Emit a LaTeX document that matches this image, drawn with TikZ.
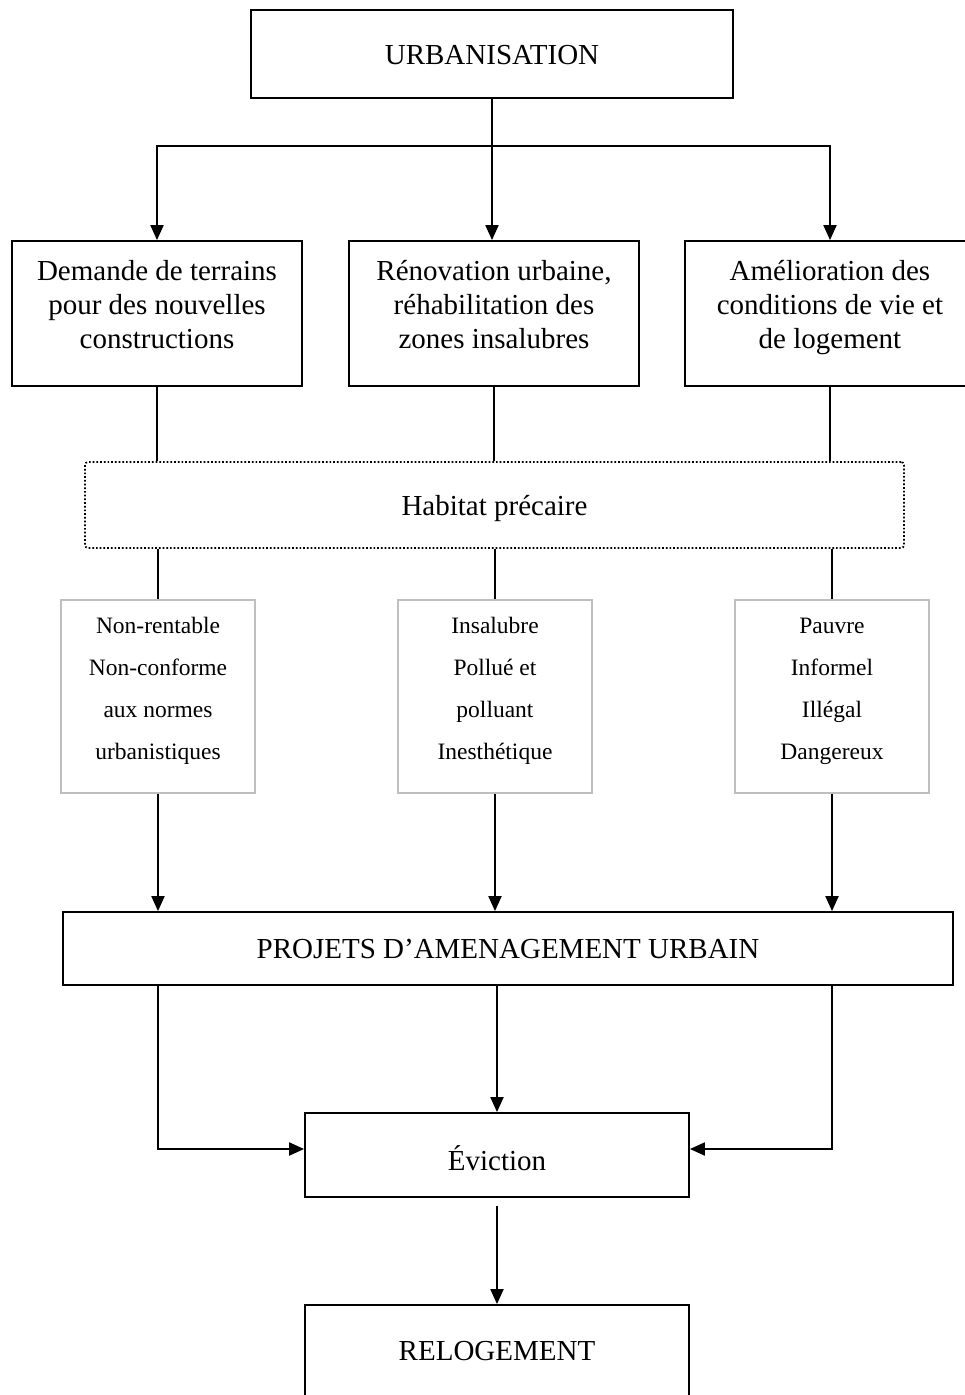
\documentclass[tikz,border=0pt]{standalone}
\usepackage{fontspec}
\setmainfont{Liberation Serif}
\usetikzlibrary{arrows.meta}
\tikzset{
  box/.style={draw, line width=1.8pt, inner sep=0pt},
  hatch/.style={draw, line width=1.7pt, dotted, rounded corners=3pt, inner sep=0pt},
  softbox/.style={draw=black!25, line width=1.3pt, inner sep=0pt},
  bigtxt/.style={font=\fontsize{29}{34}\selectfont, align=center, inner sep=0pt},
  smalltxt/.style={font=\fontsize{23.5}{42}\selectfont, align=center, inner sep=0pt},
  link/.style={line width=2pt},
  arrow/.style={line width=2pt, -{Triangle[length=15pt,width=13pt]}},
}
\begin{document}
\begin{tikzpicture}[x=1pt,y=-1pt]
\useasboundingbox (0,0) rectangle (964,1395);

% top level
\node[box, minimum width=482pt, minimum height=88pt] (urb) at (492,54) {};
\node[bigtxt] (urbt) at (492,55) {URBANISATION};

% three causes
\node[box, minimum width=290pt, minimum height=145pt] (d1) at (157,313.5) {};
\node[bigtxt] (d1t) at (157,305) {Demande de terrains\\pour des nouvelles\\constructions};
\node[box, minimum width=290pt, minimum height=145pt] (d2) at (494,313.5) {};
\node[bigtxt] (d2t) at (494,305) {Rénovation urbaine,\\réhabilitation des\\zones insalubres};
\node[box, minimum width=290pt, minimum height=145pt] (d3) at (830,313.5) {};
\node[bigtxt] (d3t) at (830,308) {Amélioration des\\conditions de vie et\\de logement};

% precarious housing
\node[hatch, minimum width=819pt, minimum height=86pt] (hab) at (494.5,505) {};
\node[bigtxt] (habt) at (494.5,508) {Habitat précaire};

% qualifiers
\node[softbox, minimum width=194pt, minimum height=193pt] (g1) at (158,696.5) {};
\node[smalltxt] (g1t) at (158,691) {Non-rentable\\Non-conforme\\aux normes\\urbanistiques};
\node[softbox, minimum width=194pt, minimum height=193pt] (g2) at (495,696.5) {};
\node[smalltxt] (g2t) at (495,691) {Insalubre\\Pollué et\\polluant\\Inesthétique};
\node[softbox, minimum width=194pt, minimum height=193pt] (g3) at (832,696.5) {};
\node[smalltxt] (g3t) at (832,691) {Pauvre\\Informel\\Illégal\\Dangereux};

% projects, eviction, rehousing
\node[box, minimum width=890pt, minimum height=73pt] (proj) at (508,948.5) {};
\node[bigtxt] (projt) at (508,949) {PROJETS D’AMENAGEMENT URBAIN};
\node[box, minimum width=384pt, minimum height=84pt] (ev) at (497,1155) {};
\node[bigtxt] (evt) at (497,1158) {Éviction};
\node[box, minimum width=384pt, minimum height=120pt] (rel) at (497,1365) {};
\node[bigtxt] (relt) at (497,1351) {RELOGEMENT};

% branching from the top
\coordinate (hub) at (492,146);
\draw[link] (urb.south) -- (hub);
\draw[arrow] (hub) -- (hub |- d2.north);
\draw[arrow] (hub) -| (d1.north);
\draw[arrow] (hub) -| (d3.north);

% causes to precarious housing
\draw[link] (d1.south) -- (d1.south |- hab.north);
\draw[link] (d2.south) -- (d2.south |- hab.north);
\draw[link] (d3.south) -- (d3.south |- hab.north);

% precarious housing to qualifiers
\draw[link] (hab.south -| g1.north) -- (g1.north);
\draw[link] (hab.south -| g2.north) -- (g2.north);
\draw[link] (hab.south -| g3.north) -- (g3.north);

% qualifiers to projects
\draw[arrow] (g1.south) -- (g1.south |- proj.north);
\draw[arrow] (g2.south) -- (g2.south |- proj.north);
\draw[arrow] (g3.south) -- (g3.south |- proj.north);

% projects to eviction
\draw[arrow] (proj.south -| g1.south) |- ([yshift=6pt]ev.west);
\draw[arrow] (proj.south -| ev.north) -- (ev.north);
\draw[arrow] (proj.south -| g3.south) |- ([yshift=6pt]ev.east);

% eviction to rehousing
\draw[arrow] ([yshift=-8pt]ev.south) -- (rel.north);
\end{tikzpicture}
\end{document}
